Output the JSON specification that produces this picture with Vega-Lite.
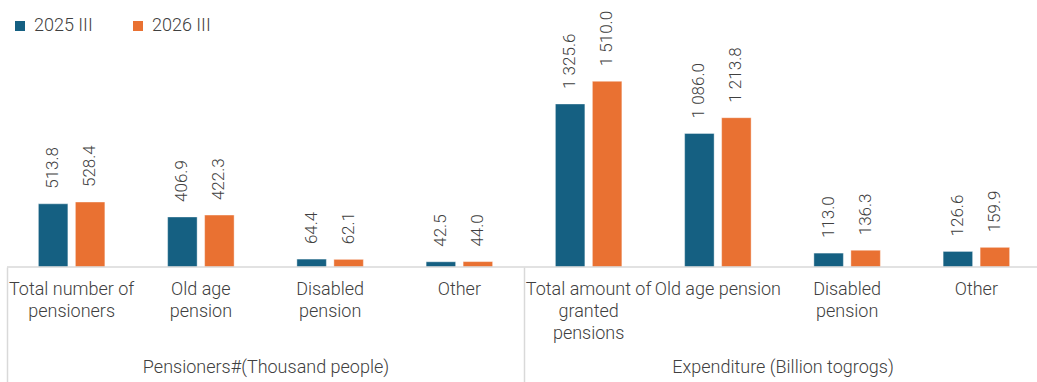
{
  "$schema": "https://vega.github.io/schema/vega-lite/v6.json",
  "autosize": {"type": "none"},
  "padding": {"left": 7, "right": -4, "top": 21, "bottom": 115},
  "width": 1034,
  "height": 246,
  "data": {"values": [
    {"group": "Pensioners#(Thousand people)", "cat": "1 Total number of|pensioners", "series": "2025 III", "value": 513.8},
    {"group": "Pensioners#(Thousand people)", "cat": "1 Total number of|pensioners", "series": "2026 III", "value": 528.4},
    {"group": "Pensioners#(Thousand people)", "cat": "2 Old age|pension", "series": "2025 III", "value": 406.9},
    {"group": "Pensioners#(Thousand people)", "cat": "2 Old age|pension", "series": "2026 III", "value": 422.3},
    {"group": "Pensioners#(Thousand people)", "cat": "3 Disabled|pension", "series": "2025 III", "value": 64.4},
    {"group": "Pensioners#(Thousand people)", "cat": "3 Disabled|pension", "series": "2026 III", "value": 62.1},
    {"group": "Pensioners#(Thousand people)", "cat": "4 Other", "series": "2025 III", "value": 42.5},
    {"group": "Pensioners#(Thousand people)", "cat": "4 Other", "series": "2026 III", "value": 44.0},
    {"group": "Expenditure (Billion togrogs)", "cat": "5 Total amount of|granted|pensions", "series": "2025 III", "value": 1325.6},
    {"group": "Expenditure (Billion togrogs)", "cat": "5 Total amount of|granted|pensions", "series": "2026 III", "value": 1510.0},
    {"group": "Expenditure (Billion togrogs)", "cat": "6 Old age pension", "series": "2025 III", "value": 1086.0},
    {"group": "Expenditure (Billion togrogs)", "cat": "6 Old age pension", "series": "2026 III", "value": 1213.8},
    {"group": "Expenditure (Billion togrogs)", "cat": "7 Disabled|pension", "series": "2025 III", "value": 113.0},
    {"group": "Expenditure (Billion togrogs)", "cat": "7 Disabled|pension", "series": "2026 III", "value": 136.3},
    {"group": "Expenditure (Billion togrogs)", "cat": "8 Other", "series": "2025 III", "value": 126.6},
    {"group": "Expenditure (Billion togrogs)", "cat": "8 Other", "series": "2026 III", "value": 159.9}
  ]},
  "layer": [
    {
      "encoding": {
        "x": {"field": "cat", "type": "nominal", "sort": null,
          "scale": {"paddingInner": 0, "paddingOuter": 0},
          "axis": {"title": null, "orient": "bottom", "domain": false, "ticks": false, "tickSize": 0,
            "labelPadding": 13, "labelAngle": 0, "labelOverlap": false, "labelFlush": false,
            "labelExpr": "split(slice(datum.value, 2), '|')",
            "labelFont": "Roboto", "labelFontSize": 18, "labelFontWeight": 300, "labelColor": "#404040",
            "labelLineHeight": 22, "labelLimit": 0}},
        "xOffset": {"field": "series", "type": "nominal", "scale": {"paddingInner": 0.2027, "paddingOuter": 0.848}},
        "y": {"field": "value", "type": "quantitative", "scale": {"domain": [0, 2000]}, "axis": null}
      },
      "layer": [
        {
          "mark": {"type": "bar", "stroke": "white", "strokeWidth": 0.8, "strokeOpacity": 0.5},
          "encoding": {
            "color": {"field": "series", "type": "nominal",
              "scale": {"domain": ["2025 III", "2026 III"], "range": ["#156082", "#E97132"]},
              "legend": {"title": null, "orient": "none", "legendX": 4, "legendY": -4, "direction": "horizontal",
                "symbolType": "square", "symbolSize": 100, "symbolStrokeWidth": 0,
                "labelFont": "Roboto", "labelFontSize": 18, "labelFontWeight": 300, "labelColor": "#404040",
                "labelOffset": 5, "columnPadding": 36}}
          }
        },
        {
          "mark": {"type": "text", "angle": 270, "align": "left", "baseline": "middle", "dx": 15,
            "font": "Roboto", "fontSize": 17, "fontWeight": 300, "color": "#404040"},
          "encoding": {
            "text": {"field": "value", "type": "quantitative", "format": ",.1f"}
          }
        }
      ]
    },
    {
      "transform": [{"aggregate": [{"op": "count", "as": "n"}], "groupby": ["group"]}],
      "mark": {"type": "bar", "fill": "transparent", "stroke": "#d9d9d9", "strokeWidth": 1.5},
      "encoding": {
        "x": {"field": "group", "type": "nominal",
          "sort": ["Pensioners#(Thousand people)", "Expenditure (Billion togrogs)"],
          "scale": {"paddingInner": 0, "paddingOuter": 0},
          "axis": {"title": null, "orient": "bottom", "domain": false, "ticks": true, "tickSize": 116,
            "tickBand": "extent", "tickColor": "#d9d9d9", "tickWidth": 1.5,
            "labelPadding": -25, "labelAngle": 0, "labelOverlap": false, "labelFlush": false,
            "labelFont": "Roboto", "labelFontSize": 18, "labelFontWeight": 300, "labelColor": "#404040", "labelLimit": 0}},
        "y": {"datum": 0, "type": "quantitative", "axis": null},
        "y2": {"datum": 0}
      }
    }
  ],
  "resolve": {"scale": {"x": "independent"}, "axis": {"x": "independent"}},
  "config": {
    "view": {"stroke": null},
    "locale": {"number": {"decimal": ".", "thousands": " ", "grouping": [3], "currency": ["", ""]}}
  }
}
